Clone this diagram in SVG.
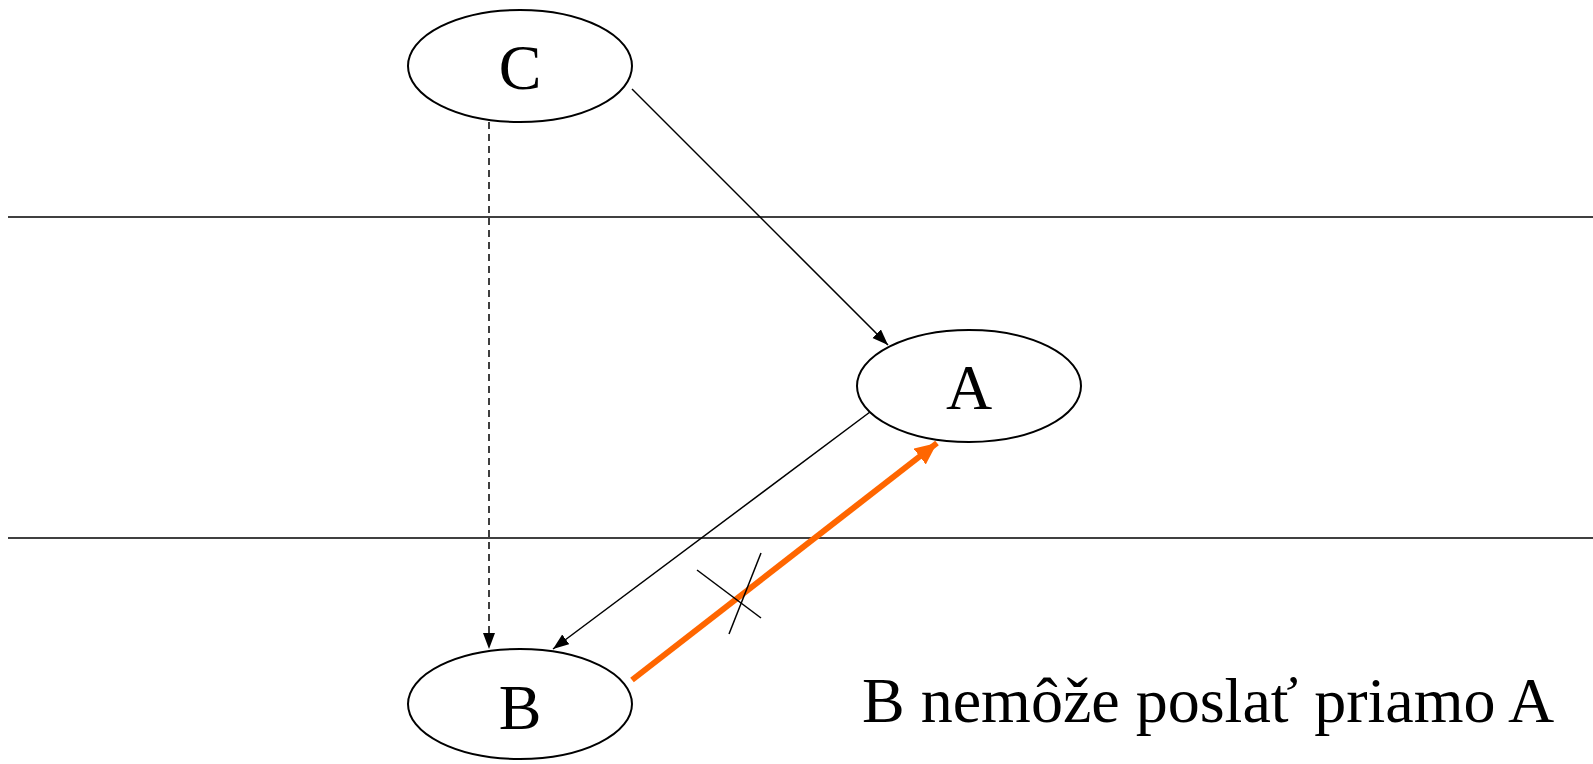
<svg xmlns="http://www.w3.org/2000/svg" width="1593" height="764" viewBox="0 0 1593 764">
<style>
.node{fill:#fff;stroke:#000;stroke-width:2}
.lbl{font-family:"Liberation Serif","Times New Roman",serif;font-size:64px;fill:#000;text-anchor:middle}
.edge{stroke:#000;stroke-width:1.5;fill:none}
</style>
<defs>
<marker id="ah" markerUnits="userSpaceOnUse" markerWidth="18" markerHeight="14" refX="16" refY="6" orient="auto">
<path d="M0,0 L16,6 L0,12 Z" fill="#000"/>
</marker>
<marker id="ao" markerUnits="userSpaceOnUse" markerWidth="26" markerHeight="22" refX="22" refY="10" orient="auto">
<path d="M0,0 L22,10 L0,20 Z" fill="#FF6600"/>
</marker>
</defs>
<rect width="1593" height="764" fill="#fff"/>
<g id="lanes">
<line x1="8" y1="217" x2="1593" y2="217" stroke="#000" stroke-width="1.5"/>
<line x1="8" y1="538" x2="1593" y2="538" stroke="#000" stroke-width="1.5"/>
</g>
<g id="connectors">
<line class="edge" x1="632" y1="89" x2="888" y2="345" marker-end="url(#ah)"/>
<line class="edge" x1="874" y1="409" x2="553" y2="649" marker-end="url(#ah)"/>
<line class="edge" x1="489" y1="122" x2="489" y2="649" stroke-dasharray="7,5" marker-end="url(#ah)"/>
<line x1="632" y1="680" x2="937" y2="443" stroke="#FF6600" stroke-width="6" marker-end="url(#ao)"/>
<line class="edge" x1="697" y1="570" x2="761" y2="618"/>
<line class="edge" x1="761" y1="553" x2="729" y2="634"/>
</g>
<g id="C">
<ellipse class="node" cx="520" cy="66" rx="112" ry="56"/>
<text class="lbl" x="520" y="89">C</text>
</g>
<g id="A">
<ellipse class="node" cx="969" cy="386" rx="112" ry="56"/>
<text class="lbl" x="969" y="409">A</text>
</g>
<g id="B">
<ellipse class="node" cx="520" cy="704" rx="112" ry="55"/>
<text class="lbl" x="520" y="729">B</text>
</g>
<g id="caption">
<text x="862" y="722" font-family="'Liberation Serif','Times New Roman',serif" font-size="64" fill="#000">B nemôže poslať priamo A</text>
</g>
</svg>
